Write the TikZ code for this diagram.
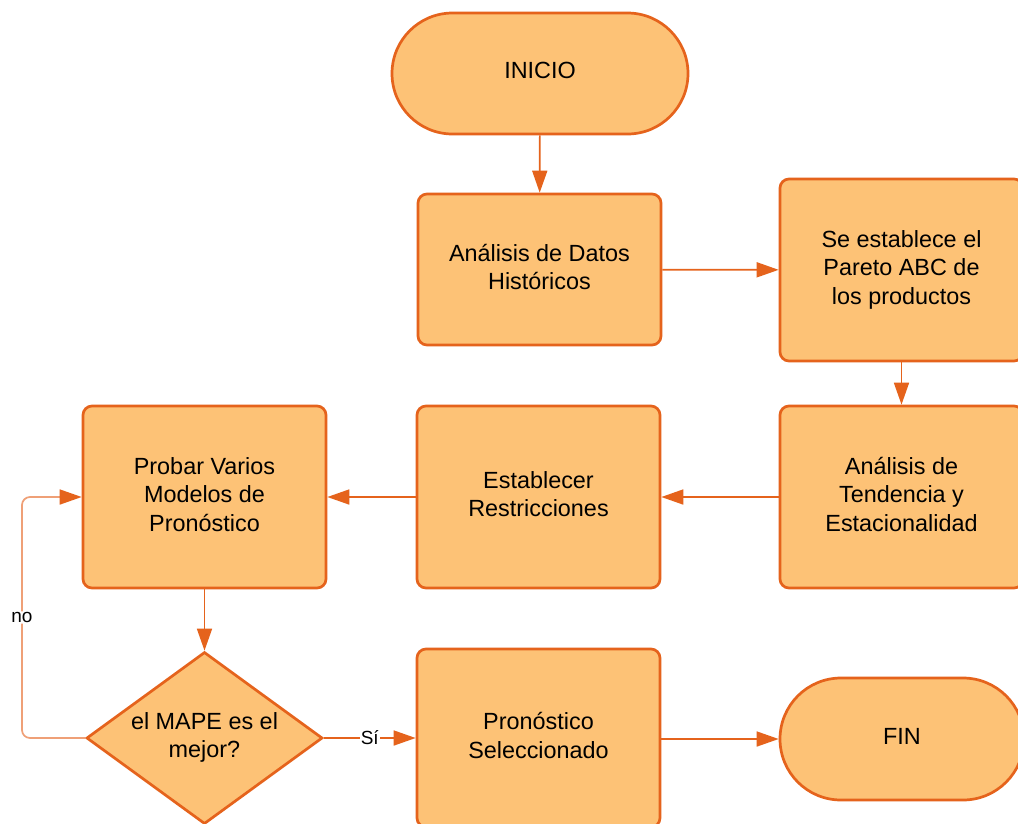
\documentclass[tikz,border=0pt]{standalone}
\usepackage{fontspec}
\setmainfont{Liberation Sans}
\usetikzlibrary{shapes.geometric,shapes.misc,arrows.meta}
\definecolor{boxfill}{HTML}{FDC276}
\definecolor{boxline}{HTML}{E5631C}
\definecolor{loopline}{HTML}{EFA077}
\tikzset{
  base/.style={draw=boxline, fill=boxfill, line width=2.7pt, align=center, inner sep=0pt,
    font=\fontsize{23.4}{28.5}\selectfont, text=black, text depth=5.5pt},
  procbox/.style={base, rectangle, rounded corners=9pt, minimum width=243pt},
  termbox/.style={base, rounded rectangle, minimum height=121pt},
  decbox/.style={base, diamond, minimum width=236pt, minimum height=172pt, aspect=1.37},
  conn/.style={draw=boxline, line width=1.7pt, -{Triangle[length=22pt,width=15pt]}},
  loopconn/.style={draw=loopline, line width=1.7pt, rounded corners=8pt,
    -{Triangle[length=22pt,width=15pt,color=boxline]}},
  lbl/.style={fill=white, inner sep=1pt, font=\fontsize{19}{22}\selectfont, text=black}
}
\begin{document}
\begin{tikzpicture}[x=1pt,y=-1pt]
\clip (0,0) rectangle (1018,823);
\fill[white] (0,0) rectangle (1018,823);
\node[termbox, minimum width=296pt] (ini) at (540,73.5) {INICIO};
\node[procbox, minimum height=151pt] (hist) at (539.5,269.5) {Análisis de Datos\\Históricos};
\node[procbox, minimum height=182pt] (par) at (901.5,270) {Se establece el\\Pareto ABC de\\los productos};
\node[procbox, minimum height=182pt] (ten) at (901.5,497) {Análisis de\\Tendencia y\\Estacionalidad};
\node[procbox, minimum height=182pt] (res) at (538.5,497) {Establecer\\Restricciones};
\node[procbox, minimum height=182pt] (prob) at (204.5,497) {Probar Varios\\Modelos de\\Pronóstico};
\node[decbox] (dia) at (204.5,738) {el MAPE es el\\mejor?};
\node[procbox, minimum height=178pt] (sel) at (538.5,738) {Pronóstico\\Seleccionado};
\node[termbox, minimum width=244pt, minimum height=122pt] (fin) at (902,739) {FIN};
\coordinate (c1) at (22,738);
\coordinate (c2) at (22,497);

\draw[conn] (ini) -- (hist);
\draw[conn] (hist) -- (par);
\draw[conn] (par) -- (ten);
\draw[conn] (ten) -- (res);
\draw[conn] (res) -- (prob);
\draw[conn] (prob) -- (dia);
\draw[conn] (dia.east) -- node[lbl] {Sí} (sel.west |- dia.east);
\draw[conn] (sel.east |- fin.west) -- (fin.west);
\draw[loopconn] (dia.west) -- (c1) -- node[lbl] {no} (c2) -- (prob.west);
\end{tikzpicture}
\end{document}
